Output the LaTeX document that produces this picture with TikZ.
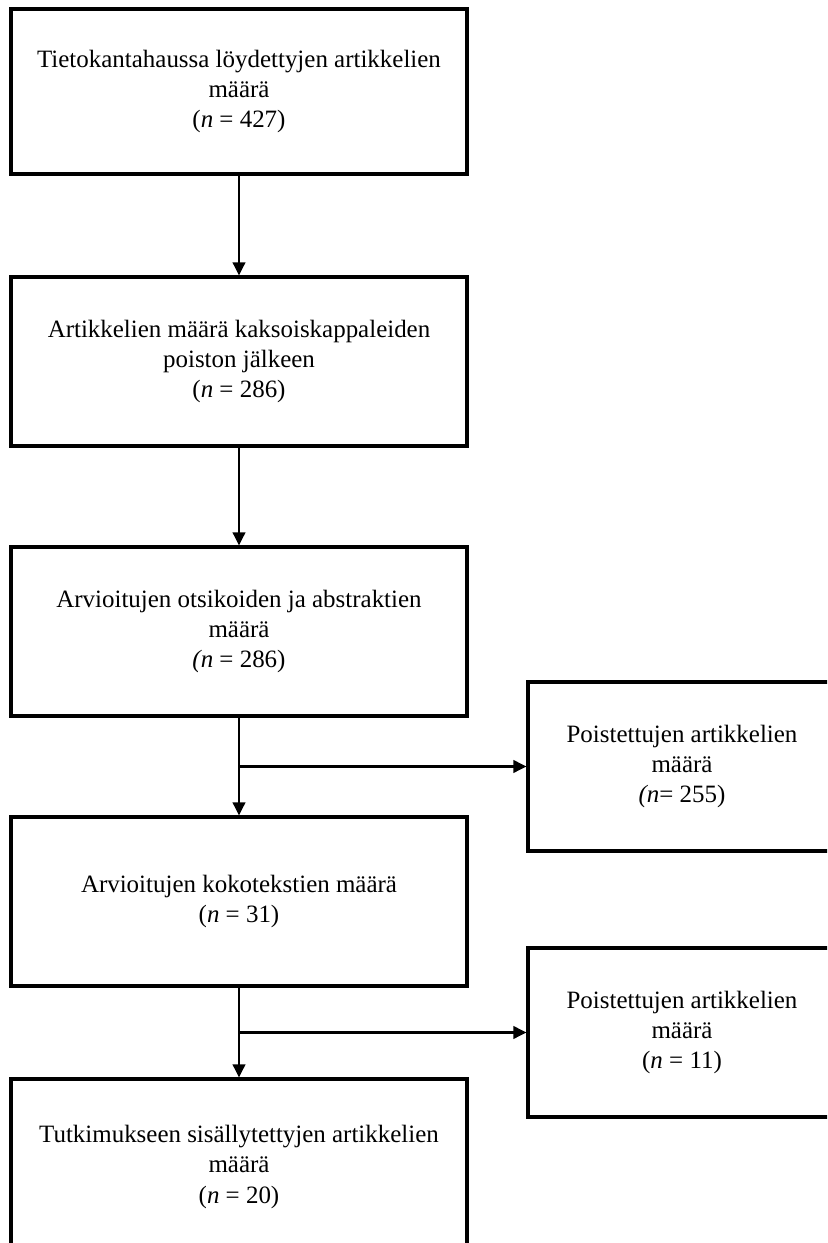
\documentclass[tikz,border=0pt]{standalone}
\usepackage{fontspec}
\setmainfont{Liberation Serif}
\usetikzlibrary{arrows.meta}

\begin{document}
\begin{tikzpicture}[
    box/.style={draw, line width=1.8pt, align=center, font=\fontsize{14.2}{17.2}\selectfont,
                minimum width=9.12cm, minimum height=3.38cm, inner sep=0pt},
    sidebox/.style={box, minimum width=6.16cm},
    arr/.style={line width=1.3pt, -{Triangle[length=2.6mm,width=2.5mm]}}
  ]
\useasboundingbox (0,0) rectangle (16.54,24.86);
\clip (0,0) rectangle (16.54,24.86);
% main column
\node[box, minimum height=3.3cm] (haku) at (4.78,23.03) {Tietokantahaussa löydettyjen artikkelien\\ määrä\\ (\textit{n} = 427)};
\node[box] (kaksois) at (4.78,17.63) {Artikkelien määrä kaksoiskappaleiden\\ poiston jälkeen\\ (\textit{n} = 286)};
\node[box] (otsikot) at (4.78,12.23) {Arvioitujen otsikoiden ja abstraktien\\ määrä\\ \textit{(n} = 286)};
\node[box] (koko) at (4.78,6.83) {Arvioitujen kokotekstien määrä\\ (\textit{n} = 31)};
\node[box, minimum height=3.52cm] (mukaan) at (4.78,1.52) {Tutkimukseen sisällytettyjen artikkelien\\ määrä\\ (\textit{n} = 20)};
% removed
\node[sidebox] (poisto1) at (13.64,9.53) {Poistettujen artikkelien\\ määrä\\ \textit{(n}= 255)};
\node[sidebox] (poisto2) at (13.64,4.21) {Poistettujen artikkelien\\ määrä\\ (\textit{n} = 11)};

\draw[arr] (haku) -- (kaksois);
\draw[arr] (kaksois) -- (otsikot);
\draw[arr] (otsikot) -- (koko);
\draw[arr] (otsikot.south |- poisto1.west) -- (poisto1.west);
\draw[arr] (koko) -- (mukaan);
\draw[arr] (koko.south |- poisto2.west) -- (poisto2.west);
\end{tikzpicture}
\end{document}
